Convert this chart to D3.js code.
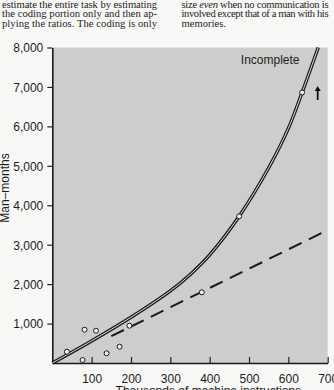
<!DOCTYPE html>
<html>
<head>
<meta charset="utf-8">
<script src="https://cdnjs.cloudflare.com/ajax/libs/d3/7.8.5/d3.min.js"></script>
<style>
  body { margin: 0; background: #f8f8f6; }
  svg { display: block; }
</style>
</head>
<body>
<div id="chart"></div>
<script>
// values
var pointSizes = [37, 77, 82, 111, 138, 171, 196, 380];      // thousands of instructions
var pointEfforts = [286, 76, 844, 819, 246, 413, 946, 1792];  // man-months

var curveSizes = [0, 100, 200, 300, 350, 400, 475, 550, 600, 635, 676];
var curveEfforts = [0, 560, 1160, 1830, 2240, 2740, 3720, 4950, 5950, 6860, 8000];

var markSizes = [475, 635];
var markEfforts = [3720, 6860];

var dashSizes = [150, 700];
var dashEfforts = [680, 3370];

var xTicks = [100, 200, 300, 400, 500, 600, 700];
var yTicks = [1000, 2000, 3000, 4000, 5000, 6000, 7000, 8000];

var leftLines = [
  "estimate the entire task by estimating",
  "the coding portion only and then ap-",
  "plying the ratios. The coding is only"
];
var rightLines = [
  ["size ", "even", " when no communication is"],
  ["involved except that of a man with his"],
  ["memories."]
];

var svgWidth = 334;
var svgHeight = 390;

var margin = {
  top: 47.5,
  right: 6.3,
  bottom: 27,
  left: 52.3
};

var plotWidth = svgWidth - margin.left - margin.right;
var plotHeight = svgHeight - margin.top - margin.bottom;

var svg = d3.select("#chart")
  .append("svg")
  .attr("width", svgWidth)
  .attr("height", svgHeight);

// book text above the figure
var bookFont = "'Liberation Serif', 'DejaVu Serif', serif";
svg.append("g")
  .selectAll("text")
  .data(leftLines)
  .enter()
  .append("text")
  .attr("x", 2)
  .attr("y", (d, i) => 7.5 + i * 9.7)
  .attr("font-family", bookFont)
  .attr("font-size", "10.6px")
  .attr("fill", "#222")
  .attr("textLength", 155)
  .attr("lengthAdjust", "spacing")
  .text(d => d);

var right = svg.append("g")
  .selectAll("text")
  .data(rightLines)
  .enter()
  .append("text")
  .attr("x", 181.5)
  .attr("y", (d, i) => 7.5 + i * 9.7)
  .attr("font-family", bookFont)
  .attr("font-size", "10.6px")
  .attr("fill", "#222")
  .attr("textLength", (d, i) => i < 2 ? 147 : null)
  .attr("lengthAdjust", "spacing");

right.selectAll("tspan")
  .data(d => d)
  .enter()
  .append("tspan")
  .attr("font-style", d => d == "even" ? "italic" : null)
  .text(d => d);

var plot = svg.append("g")
  .attr("transform", `translate(${margin.left}, ${margin.top})`);

var xScale = d3.scaleLinear()
  .domain([0, 700])
  .range([0, plotWidth]);

var yScale = d3.scaleLinear()
  .domain([0, 8000])
  .range([plotHeight, 0]);

// grey screen of the plot area
plot.append("rect")
  .attr("width", plotWidth)
  .attr("height", plotHeight)
  .attr("fill", "#cdcdcb");

var sansFont = "'Liberation Sans', Arial, sans-serif";

var xAxis = d3.axisBottom(xScale)
  .tickValues(xTicks)
  .tickSizeInner(-6)
  .tickSizeOuter(0)
  .tickPadding(11);

var yAxis = d3.axisLeft(yScale)
  .tickValues(yTicks)
  .tickFormat(d3.format(","))
  .tickSizeInner(5)
  .tickSizeOuter(0)
  .tickPadding(4);

var gx = plot.append("g")
  .attr("transform", `translate(0, ${plotHeight})`)
  .call(xAxis);

var gy = plot.append("g").call(yAxis);

[gx, gy].forEach(function(g) {
  g.selectAll("text")
    .attr("font-family", sansFont)
    .attr("font-size", "12px")
    .attr("fill", "#1c1c1c");
  g.selectAll("line").attr("stroke", "#222").attr("stroke-width", 1.2);
  g.select(".domain").attr("stroke", "#1a1a1a").attr("stroke-width", 1.6);
});
gy.selectAll("text").attr("dy", "0.36em");

// dashed regression line
var dashLine = d3.line()
  .x(d => xScale(d[0]))
  .y(d => yScale(d[1]));

plot.append("path")
  .datum(d3.zip(dashSizes, dashEfforts))
  .attr("d", dashLine)
  .attr("fill", "none")
  .attr("stroke", "#1a1a1a")
  .attr("stroke-width", 2)
  .attr("stroke-dasharray", "14,8");

// double-line curve
var curveLine = d3.line()
  .x(d => xScale(d[0]))
  .y(d => yScale(d[1]))
  .curve(d3.curveCatmullRom.alpha(0.5));

var curveData = d3.zip(curveSizes, curveEfforts);

plot.append("path")
  .datum(curveData)
  .attr("d", curveLine)
  .attr("fill", "none")
  .attr("stroke", "#1a1a1a")
  .attr("stroke-width", 3.4);

plot.append("path")
  .datum(curveData)
  .attr("d", curveLine)
  .attr("fill", "none")
  .attr("stroke", "#e4e4e2")
  .attr("stroke-width", 1);

// data points
plot.append("g")
  .selectAll("circle")
  .data(d3.zip(pointSizes, pointEfforts).concat(d3.zip(markSizes, markEfforts)))
  .enter()
  .append("circle")
  .attr("cx", d => xScale(d[0]))
  .attr("cy", d => yScale(d[1]))
  .attr("r", 2.5)
  .attr("fill", "#f4f4f2")
  .attr("stroke", "#1a1a1a")
  .attr("stroke-width", 1);

plot.append("text")
  .attr("x", 188.5)
  .attr("y", 16)
  .attr("font-family", sansFont)
  .attr("font-size", "12px")
  .attr("fill", "#1c1c1c")
  .text("Incomplete");

// up arrow beside the curve
plot.append("line")
  .attr("x1", 265.4).attr("y1", 52.5)
  .attr("x2", 265.4).attr("y2", 42)
  .attr("stroke", "#111")
  .attr("stroke-width", 1.8);
plot.append("path")
  .attr("d", "M262.4,43.5 L265.4,38.5 L268.4,43.5 Z")
  .attr("fill", "#111");

// axis titles
plot.append("text")
  .attr("x", 156)
  .attr("y", plotHeight + 32)
  .attr("text-anchor", "middle")
  .attr("font-family", sansFont)
  .attr("font-size", "12px")
  .attr("fill", "#1c1c1c")
  .text("Thousands of machine instructions");

plot.append("text")
  .attr("transform", "rotate(-90)")
  .attr("x", -(188 - margin.top))
  .attr("y", -(margin.left - 8.5))
  .attr("text-anchor", "middle")
  .attr("font-family", sansFont)
  .attr("font-size", "12px")
  .attr("fill", "#1c1c1c")
  .text("Man–months");
</script>
</body>
</html>
